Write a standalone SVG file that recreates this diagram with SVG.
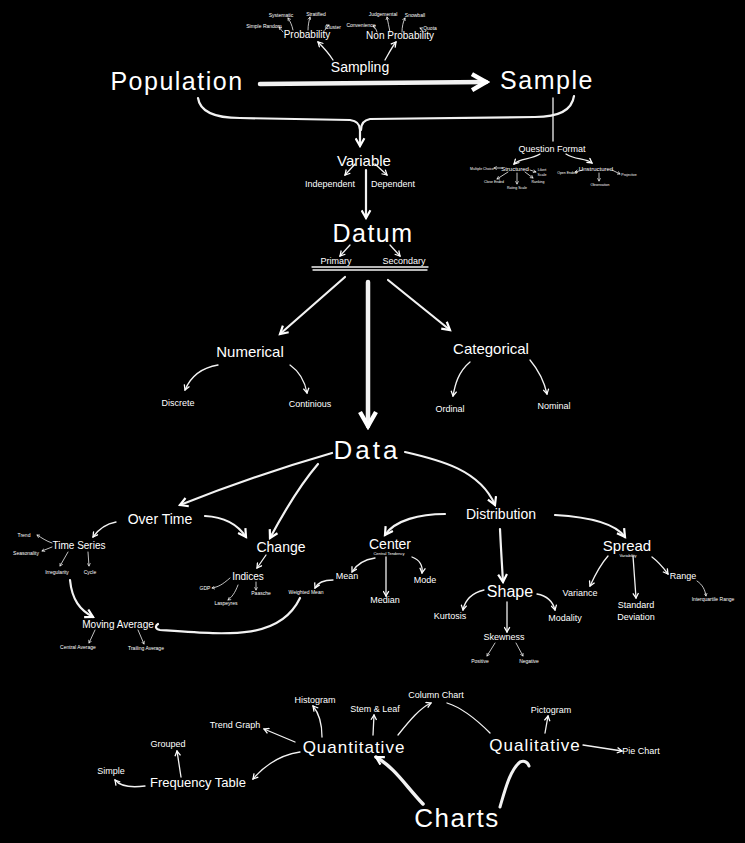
<svg xmlns="http://www.w3.org/2000/svg" width="745" height="843" viewBox="0 0 745 843">
<defs>
<style>
text{font-family:"Liberation Sans",Arial,sans-serif;fill:#fff;text-anchor:middle}
.c path{fill:none;stroke:#f2f2f2;stroke-linecap:round;stroke-linejoin:round}
.t{stroke-width:0.8}
.s{stroke-width:1.3}
.m{stroke-width:2.2}
.b{stroke-width:4.5}
.w{letter-spacing:1.5px}
</style>
<marker id="at" viewBox="0 0 10 10" refX="8" refY="5" markerWidth="4" markerHeight="4" markerUnits="userSpaceOnUse" orient="auto"><path d="M1,1 L8,5 L1,9" fill="none" stroke="#fff" stroke-width="1.6"/></marker>
<marker id="as" viewBox="0 0 10 10" refX="8" refY="5" markerWidth="7" markerHeight="7" markerUnits="userSpaceOnUse" orient="auto"><path d="M1,1 L8,5 L1,9" fill="none" stroke="#fff" stroke-width="1.8"/></marker>
<marker id="am" viewBox="0 0 10 10" refX="8" refY="5" markerWidth="11" markerHeight="11" markerUnits="userSpaceOnUse" orient="auto"><path d="M1,1 L8,5 L1,9" fill="none" stroke="#fff" stroke-width="2"/></marker>
<marker id="ab" viewBox="0 0 10 10" refX="8" refY="5" markerWidth="20" markerHeight="20" markerUnits="userSpaceOnUse" orient="auto"><path d="M1,1 L8,5 L1,9" fill="none" stroke="#fff" stroke-width="2.2"/></marker>
</defs>
<rect width="745" height="843" fill="#000"/>

<g id="connectors" class="c">
<path class="b" d="M260,84 L486,82" marker-end="url(#ab)"/>
<path class="s" d="M333,60 C328,52 323,47 318,42" marker-end="url(#as)"/>
<path class="s" d="M385,60 C389,53 392,47 396,42" marker-end="url(#as)"/>
<path class="t" d="M283,32 C281,30 280,28 279,27" marker-end="url(#at)"/>
<path class="t" d="M293,30 C292,25 290,21 288,18" marker-end="url(#at)"/>
<path class="t" d="M308,30 C308,25 309,21 310,17" marker-end="url(#at)"/>
<path class="t" d="M325,30 C326,28 327,26 329,25" marker-end="url(#at)"/>
<path class="t" d="M377,32 C376,29 375,27 373,26" marker-end="url(#at)"/>
<path class="t" d="M390,32 C389,27 388,22 387,17" marker-end="url(#at)"/>
<path class="t" d="M402,32 C402,27 403,22 405,18" marker-end="url(#at)"/>
<path class="t" d="M423,32 C423,30 422,29 420,28" marker-end="url(#at)"/>
<path class="m" d="M198,98 C200,112 215,118 240,118 L350,120 C358,121 360,125 360,130 L360,146" marker-end="url(#am)"/>
<path class="m" d="M574,96 C572,110 560,117 535,117 L370,119 C364,120 361,124 361,130"/>
<path class="s" d="M553,98 L553,141"/>
<path class="s" d="M540,154 C530,160 520,158 514,164" marker-end="url(#as)"/>
<path class="s" d="M566,154 C575,160 585,158 592,163" marker-end="url(#as)"/>
<path class="t" d="M502,168 L494,168" marker-end="url(#at)"/>
<path class="t" d="M508,172 L497,179" marker-end="url(#at)"/>
<path class="t" d="M517,173 L517,184" marker-end="url(#at)"/>
<path class="t" d="M525,172 L533,178" marker-end="url(#at)"/>
<path class="t" d="M530,170 L536,172" marker-end="url(#at)"/>
<path class="t" d="M583,170 L575,172" marker-end="url(#at)"/>
<path class="t" d="M599,173 L599,181" marker-end="url(#at)"/>
<path class="t" d="M612,170 L620,174" marker-end="url(#at)"/>
<path class="m" d="M366,170 L366,218" marker-end="url(#am)"/>
<path class="s" d="M355,164 L345,175" marker-end="url(#as)"/>
<path class="s" d="M375,164 L387,175" marker-end="url(#as)"/>
<path class="s" d="M350,245 L340,256" marker-end="url(#as)"/>
<path class="s" d="M390,245 L400,256" marker-end="url(#as)"/>
<path class="s" d="M312,267 L428,267"/>
<path class="s" d="M313,270 L427,270"/>
<path class="b" d="M368,282 L368,426" marker-end="url(#ab)"/>
<path class="m" d="M345,277 L280,334" marker-end="url(#am)"/>
<path class="m" d="M388,280 L450,330" marker-end="url(#am)"/>
<path class="s" d="M218,365 C200,368 190,378 185,390" marker-end="url(#as)"/>
<path class="s" d="M290,365 C300,372 305,382 307,393" marker-end="url(#as)"/>
<path class="s" d="M470,362 C458,372 455,385 453,396" marker-end="url(#as)"/>
<path class="s" d="M530,360 C540,372 545,385 547,394" marker-end="url(#as)"/>
<path class="m" d="M332,453 C280,468 230,485 180,505" marker-end="url(#am)"/>
<path class="m" d="M318,464 C300,485 285,510 270,538" marker-end="url(#am)"/>
<path class="m" d="M405,452 C440,460 480,470 495,505" marker-end="url(#am)"/>
<path class="m" d="M205,516 C225,517 238,525 246,537" marker-end="url(#am)"/>
<path class="s" d="M116,522 C105,524 98,530 93,537" marker-end="url(#as)"/>
<path class="t" d="M52,543 C46,541 42,538 37,535" marker-end="url(#at)"/>
<path class="t" d="M52,547 L42,551" marker-end="url(#at)"/>
<path class="t" d="M68,552 L60,566" marker-end="url(#at)"/>
<path class="t" d="M88,552 L89,566" marker-end="url(#at)"/>
<path class="m" d="M70,580 C72,600 80,610 93,617" marker-end="url(#am)"/>
<path class="m" d="M300,598 C280,640 230,635 160,630 C155,629 155,626 158,624"/>
<path class="t" d="M95,630 L89,643" marker-end="url(#at)"/>
<path class="t" d="M138,630 L144,644" marker-end="url(#at)"/>
<path class="s" d="M266,555 L257,568" marker-end="url(#as)"/>
<path class="t" d="M230,578 C222,585 218,587 212,588" marker-end="url(#at)"/>
<path class="t" d="M238,585 C235,593 232,597 228,600" marker-end="url(#at)"/>
<path class="t" d="M256,582 L256,590" marker-end="url(#at)"/>
<path class="s" d="M375,558 C362,560 356,565 352,572" marker-end="url(#as)"/>
<path class="s" d="M386,557 L386,596" marker-end="url(#as)"/>
<path class="s" d="M412,557 C420,560 423,565 422,573" marker-end="url(#as)"/>
<path class="s" d="M333,580 C325,580 318,582 315,588" marker-end="url(#as)"/>
<path class="m" d="M445,514 C420,514 395,520 385,535" marker-end="url(#am)"/>
<path class="m" d="M555,515 C590,517 615,523 625,537" marker-end="url(#am)"/>
<path class="m" d="M500,529 C501,550 502,565 503,582" marker-end="url(#am)"/>
<path class="s" d="M484,590 C472,593 465,600 463,610" marker-end="url(#as)"/>
<path class="s" d="M537,594 C548,596 553,602 555,610" marker-end="url(#as)"/>
<path class="s" d="M507,602 L507,632" marker-end="url(#as)"/>
<path class="t" d="M495,643 L487,656" marker-end="url(#at)"/>
<path class="t" d="M516,643 L523,656" marker-end="url(#at)"/>
<path class="s" d="M608,556 C600,565 595,575 590,586" marker-end="url(#as)"/>
<path class="s" d="M633,556 L636,598" marker-end="url(#as)"/>
<path class="s" d="M652,557 C660,563 665,570 668,574" marker-end="url(#as)"/>
<path class="t" d="M697,581 C703,585 705,590 706,596" marker-end="url(#at)"/>
<path style="stroke-width:3.5" d="M423,804 C405,785 395,768 376,757" marker-end="url(#am)"/>
<path style="stroke-width:3" d="M500,807 C505,790 510,770 520,762 C525,760 528,763 529,766"/>
<path class="s" d="M322,737 C322,720 318,712 313,706" marker-end="url(#as)"/>
<path class="s" d="M373,735 L374,715" marker-end="url(#as)"/>
<path class="s" d="M398,735 C410,720 420,708 431,703" marker-end="url(#as)"/>
<path class="s" d="M490,733 C475,718 460,707 447,703"/>
<path class="s" d="M295,742 L264,729" marker-end="url(#as)"/>
<path class="s" d="M300,752 C280,755 265,765 253,779" marker-end="url(#as)"/>
<path class="s" d="M181,777 L177,751" marker-end="url(#as)"/>
<path class="s" d="M145,786 C130,788 120,786 115,780" marker-end="url(#as)"/>
<path class="s" d="M545,733 L548,716" marker-end="url(#as)"/>
<path class="s" d="M583,745 L622,751" marker-end="url(#as)"/>
</g>

<g id="population"><text class="w" x="177" y="90" font-size="25">Population</text></g>
<g id="sample"><text class="w" x="547" y="89" font-size="25">Sample</text></g>
<g id="sampling"><text x="360" y="72" font-size="14">Sampling</text></g>
<g id="probability"><text x="307" y="38" font-size="10">Probability</text></g>
<g id="non-probability"><text x="400" y="39" font-size="10">Non Probability</text></g>
<g id="simple-random"><text x="264" y="28" font-size="5">Simple Random</text></g>
<g id="systematic"><text x="281" y="17" font-size="5">Systematic</text></g>
<g id="stratified"><text x="316" y="16" font-size="5">Stratified</text></g>
<g id="cluster"><text x="333" y="29" font-size="5">Cluster</text></g>
<g id="convenience"><text x="361" y="27" font-size="5">Convenience</text></g>
<g id="judgemental"><text x="383" y="16" font-size="5">Judgemental</text></g>
<g id="snowball"><text x="415" y="17" font-size="5">Snowball</text></g>
<g id="quota"><text x="430" y="30" font-size="5">Quota</text></g>

<g id="question-format"><text x="552" y="152" font-size="9">Question Format</text></g>
<g id="structured"><text x="515" y="171" font-size="6">Structured</text></g>
<g id="unstructured"><text x="596" y="171" font-size="6">Unstructured</text></g>
<g id="multiple-choice"><text x="482" y="170" font-size="3.5">Multiple Choice</text></g>
<g id="likert-scale"><text x="542" y="171" font-size="3.5">Likert</text><text x="542" y="176" font-size="3.5">Scale</text></g>
<g id="close-ended"><text x="494" y="183" font-size="3.5">Close Ended</text></g>
<g id="rating-scale"><text x="517" y="189" font-size="3.5">Rating Scale</text></g>
<g id="ranking"><text x="538" y="183" font-size="3.5">Ranking</text></g>
<g id="open-ended"><text x="567" y="174" font-size="3.5">Open Ended</text></g>
<g id="observation"><text x="600" y="186" font-size="3.5">Observation</text></g>
<g id="projective"><text x="629" y="176" font-size="3.5">Projective</text></g>

<g id="variable"><text x="364" y="166" font-size="15">Variable</text></g>
<g id="independent"><text x="330" y="187" font-size="9">Independent</text></g>
<g id="dependent"><text x="393" y="187" font-size="9">Dependent</text></g>
<g id="datum"><text class="w" x="373" y="242" font-size="25">Datum</text></g>
<g id="primary"><text x="336" y="264" font-size="9">Primary</text></g>
<g id="secondary"><text x="404" y="264" font-size="9">Secondary</text></g>

<g id="numerical"><text x="250" y="357" font-size="15">Numerical</text></g>
<g id="discrete"><text x="178" y="406" font-size="9">Discrete</text></g>
<g id="continious"><text x="310" y="407" font-size="9">Continious</text></g>
<g id="categorical"><text x="491" y="354" font-size="15">Categorical</text></g>
<g id="ordinal"><text x="450" y="412" font-size="9">Ordinal</text></g>
<g id="nominal"><text x="554" y="409" font-size="9">Nominal</text></g>

<g id="data"><text x="367" y="459" font-size="26" style="letter-spacing:3px">Data</text></g>

<g id="over-time"><text x="160" y="524" font-size="14">Over Time</text></g>
<g id="change"><text x="281" y="552" font-size="14">Change</text></g>
<g id="time-series"><text x="79" y="549" font-size="10">Time Series</text></g>
<g id="trend"><text x="24" y="537" font-size="5">Trend</text></g>
<g id="seasonality"><text x="26" y="555" font-size="5">Seasonality</text></g>
<g id="irregularity"><text x="57" y="574" font-size="5">Irregularity</text></g>
<g id="cycle"><text x="90" y="574" font-size="5">Cycle</text></g>
<g id="moving-average"><text x="118" y="628" font-size="10">Moving Average</text></g>
<g id="central-average"><text x="78" y="649" font-size="5">Central Average</text></g>
<g id="trailing-average"><text x="146" y="650" font-size="5">Trailing Average</text></g>

<g id="indices"><text x="248" y="580" font-size="10">Indices</text></g>
<g id="gdp"><text x="205" y="590" font-size="5">GDP</text></g>
<g id="laspeyres"><text x="226" y="605" font-size="5">Laspeyres</text></g>
<g id="paasche"><text x="261" y="595" font-size="5">Paasche</text></g>
<g id="weighted-mean"><text x="306" y="594" font-size="5">Weighted Mean</text></g>

<g id="center"><text x="390" y="549" font-size="14">Center</text><text x="389" y="555" font-size="4">Central Tendency</text></g>
<g id="mean"><text x="347" y="579" font-size="9">Mean</text></g>
<g id="median"><text x="385" y="603" font-size="9">Median</text></g>
<g id="mode"><text x="425" y="583" font-size="9">Mode</text></g>

<g id="distribution"><text x="501" y="519" font-size="14">Distribution</text></g>
<g id="spread"><text x="627" y="551" font-size="15">Spread</text><text x="628" y="557" font-size="4">Variability</text></g>
<g id="shape"><text x="510" y="597" font-size="16">Shape</text></g>
<g id="kurtosis"><text x="450" y="619" font-size="9">Kurtosis</text></g>
<g id="modality"><text x="565" y="621" font-size="9">Modality</text></g>
<g id="skewness"><text x="504" y="640" font-size="9">Skewness</text></g>
<g id="positive"><text x="480" y="663" font-size="5">Positive</text></g>
<g id="negative"><text x="529" y="663" font-size="5">Negative</text></g>
<g id="variance"><text x="580" y="596" font-size="9">Variance</text></g>
<g id="standard-deviation"><text x="636" y="608" font-size="9">Standard</text><text x="636" y="620" font-size="9">Deviation</text></g>
<g id="range"><text x="683" y="579" font-size="9">Range</text></g>
<g id="interquartile-range"><text x="713" y="601" font-size="5">Interquartile Range</text></g>

<g id="charts"><text class="w" x="457" y="827" font-size="26">Charts</text></g>
<g id="quantitative"><text x="354" y="753" font-size="17" style="letter-spacing:1px">Quantitative</text></g>
<g id="qualitative"><text x="535" y="751" font-size="17" style="letter-spacing:1px">Qualitative</text></g>
<g id="histogram"><text x="315" y="703" font-size="9">Histogram</text></g>
<g id="stem-leaf"><text x="375" y="712" font-size="9">Stem &amp; Leaf</text></g>
<g id="column-chart"><text x="436" y="698" font-size="9">Column Chart</text></g>
<g id="trend-graph"><text x="235" y="728" font-size="9">Trend Graph</text></g>
<g id="grouped"><text x="168" y="747" font-size="9">Grouped</text></g>
<g id="simple"><text x="111" y="774" font-size="9">Simple</text></g>
<g id="frequency-table"><text x="198" y="787" font-size="13">Frequency Table</text></g>
<g id="pictogram"><text x="551" y="713" font-size="9">Pictogram</text></g>
<g id="pie-chart"><text x="641" y="754" font-size="9">Pie Chart</text></g>
</svg>
